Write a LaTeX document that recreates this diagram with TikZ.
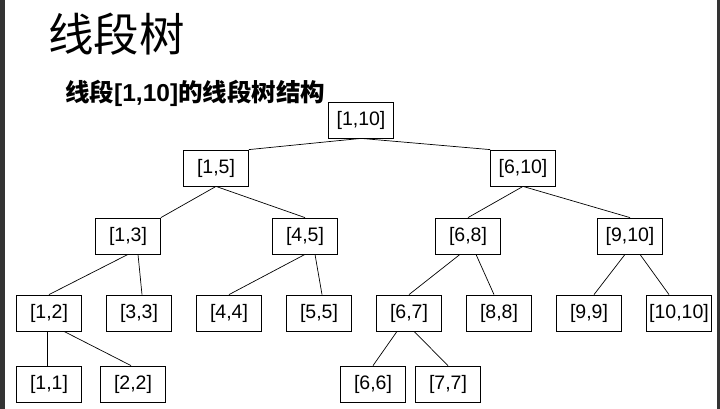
\documentclass[tikz,border=0pt]{standalone}
\usepackage{fontspec}
\setmainfont{Liberation Sans}
\newfontfamily\cjk{Noto Sans CJK SC}
\begin{document}
\begin{tikzpicture}[x=1pt,y=-1pt,
  bx/.style={draw,line width=0.8pt,minimum width=65pt,minimum height=36pt,inner sep=0pt,font=\fontsize{19.5}{19.5}\selectfont},
  ln/.style={line width=0.7pt}]
\useasboundingbox (0,0) rectangle (720,409);
\fill[white] (0,0) rectangle (720,409);
\fill[black!80] (0,0) rectangle (5,409);
\fill[black!80] (717,0) rectangle (720,409);
\node[anchor=west,font=\cjk\fontsize{45.5}{45.5}\selectfont,inner sep=0pt] (t) at (48,34) {线段树};
\node[anchor=west,font=\fontsize{24.5}{24.5}\selectfont\bfseries,inner sep=0pt] (s) at (65,93) {{\cjk\bfseries 线段}[1,10]{\cjk\bfseries 的线段树结构}};
\node[bx] (a) at (361,120) {[1,10]};
\node[bx] (b) at (216,168) {[1,5]};
\node[bx] (c) at (523,168) {[6,10]};
\node[bx] (d) at (128,236) {[1,3]};
\node[bx] (e) at (305,236) {[4,5]};
\node[bx] (f) at (468,236) {[6,8]};
\node[bx] (g) at (630,236) {[9,10]};
\node[bx] (h) at (49,313) {[1,2]};
\node[bx] (i) at (139,313) {[3,3]};
\node[bx] (j) at (229,313) {[4,4]};
\node[bx] (k) at (319,313) {[5,5]};
\node[bx] (l) at (409,313) {[6,7]};
\node[bx] (m) at (499,313) {[8,8]};
\node[bx] (n) at (589,313) {[9,9]};
\node[bx] (o) at (679,313) {[10,10]};
\node[bx] (p) at (49,384) {[1,1]};
\node[bx] (q) at (133,384) {[2,2]};
\node[bx] (r) at (373,384) {[6,6]};
\node[bx] (u) at (448,384) {[7,7]};
\draw[ln] (a.south) -- (b.north east);
\draw[ln] (a.south) -- (c.north west);
\draw[ln] (b.south) -- (d.north east);
\draw[ln] (b.south) -- (e.north);
\draw[ln] (c.south) -- (f.north);
\draw[ln] (c.south) -- (g.north);
\draw[ln] (d.south) -- (h.north);
\draw[ln] ([xshift=10pt]d.south) -- ([xshift=3pt]i.north);
\draw[ln] (e.south) -- (j.north);
\draw[ln] ([xshift=10pt]e.south) -- ([xshift=3pt]k.north);
\draw[ln] ([xshift=-8pt]f.south) -- (l.north);
\draw[ln] ([xshift=8pt]f.south) -- ([xshift=-5pt]m.north);
\draw[ln] ([xshift=-5pt]g.south) -- ([xshift=5pt]n.north);
\draw[ln] ([xshift=10pt]g.south) -- ([xshift=-10pt]o.north);
\draw[ln] ([xshift=-2pt]h.south) -- ([xshift=-2pt]p.north);
\draw[ln] ([xshift=15pt]h.south) -- ([xshift=-2pt]q.north);
\draw[ln] ([xshift=-12pt]l.south) -- (r.north);
\draw[ln] ([xshift=5pt]l.south) -- (u.north);
\end{tikzpicture}
\end{document}
